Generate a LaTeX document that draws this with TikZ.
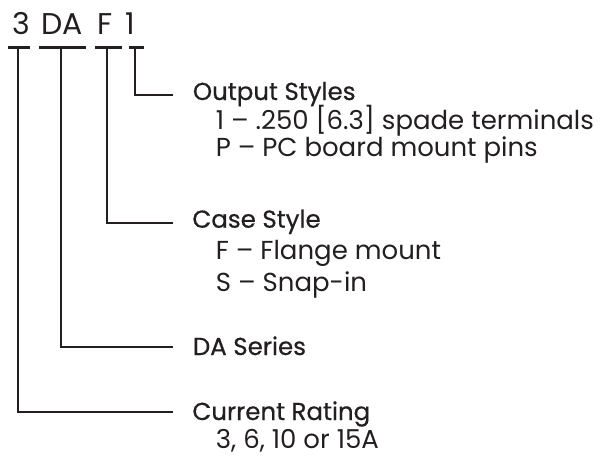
\documentclass[tikz,border=0pt]{standalone}
\usepackage{fontspec}
\setmainfont{Poppins}
\newfontfamily\headfont{Poppins}[FakeBold=0.6]
\usetikzlibrary{positioning}
\definecolor{ink}{HTML}{231F20}

\begin{document}
\begin{tikzpicture}[x=1pt,y=-1pt,ink,line width=2.8pt,
    code/.style={anchor=base west,inner sep=0pt,font=\fontsize{30}{30}\selectfont},
    head/.style={anchor=base west,inner sep=0pt,font=\headfont\fontsize{24.5}{24.5}\selectfont},
    item/.style={anchor=base west,inner sep=0pt,font=\fontsize{26}{26}\selectfont}]
    \useasboundingbox (0,0) rectangle (602,455);
    % part number
    \node[code] (c3) at (11.2,34.3) {3};
    \node[code] (cDA) at (40.2,34.3) {DA};
    \node[code] (cF) at (96.2,34.3) {F};
    \node[code] (c1) at (124.5,34.3) {1};
    % bars and leaders
    \foreach \n/\l/\r/\s/\y in {3/8/30/18/412, DA/39/86/61/347, F/95/122/107/223, 1/129/144/135/95} {
        \coordinate (bl\n) at (\l,47.5);
        \coordinate (br\n) at (\r,47.5);
        \coordinate (s\n) at (\s,47.5);
        \coordinate (e\n) at (173,\y);
        \draw (bl\n) -- (br\n);
        \draw (s\n) |- (e\n);
    }
    % descriptions
    \node[head] (hOut) at (191.5,100) {Output Styles};
    \node[item] (o1) at (214.5,129.3) {1 – .250 [6.3] spade terminals};
    \node[item] (o2) at (214.5,156.7) {P – PC board mount pins};
    \node[head] (hCase) at (191,227.7) {Case Style};
    \node[item] (f1) at (214.5,259) {F – Flange mount};
    \node[item] (f2) at (214.5,291) {S – Snap-in};
    \node[head] (hDA) at (191.5,355) {DA Series};
    \node[head] (hCur) at (191,420) {Current Rating};
    \node[item,text depth=0pt] (r1) at (214.5,448.5) {3, 6, 10 or 15A};
\end{tikzpicture}
\end{document}
